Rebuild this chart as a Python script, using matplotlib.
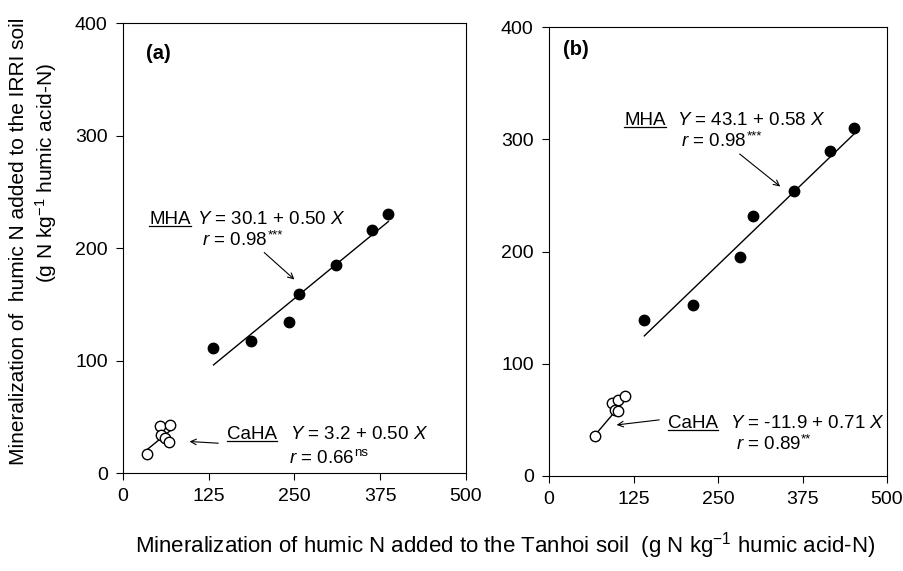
import matplotlib
matplotlib.use("Agg")
import numpy as np
import matplotlib.pyplot as plt
from matplotlib.lines import Line2D

plt.rcParams['font.family'] = ['Liberation Sans', 'DejaVu Sans']
plt.rcParams['mathtext.fontset'] = 'custom'
plt.rcParams['mathtext.rm'] = 'Liberation Sans'
plt.rcParams['mathtext.it'] = 'Liberation Sans:italic'

# Panel (a) - IRRI soil vs Tanhoi soil
mha_a_x = [132, 187, 242, 256, 311, 363, 387]
mha_a_y = [111, 117, 134, 159, 185, 216, 230]
caha_a_x = [35, 54, 69, 55, 62, 67]
caha_a_y = [17, 42, 43, 34, 31, 28]
mha_a_fit = (30.1, 0.50)
caha_a_fit = (3.2, 0.50)

# Panel (b)
mha_b_x = [141, 213, 282, 302, 362, 416, 451]
mha_b_y = [139, 152, 195, 232, 254, 290, 310]
caha_b_x = [68, 93, 102, 112, 97, 102]
caha_b_y = [36, 65, 68, 71, 59, 58]
mha_b_fit = (43.1, 0.58)
caha_b_fit = (-11.9, 0.71)

xticks = [0, 125, 250, 375, 500]
yticks = [0, 100, 200, 300, 400]

FS_TICK = 14
FS_ANN = 13.5
FS_LAB = 15

fig = plt.figure(figsize=(9.04, 5.71), dpi=100)
ax_a = fig.add_axes([0.136, 0.1716, 0.3794, 0.788])
ax_b = fig.add_axes([0.6073, 0.1664, 0.3739, 0.786])


def draw_panel(ax, mx, my, cx, cy, mfit, cfit):
    mx = np.array(mx); cx = np.array(cx)
    xs = np.array([mx.min(), mx.max()])
    ax.plot(xs, mfit[0] + mfit[1] * xs, color='black', lw=1.0)
    xs = np.array([cx.min(), cx.max()])
    ax.plot(xs, cfit[0] + cfit[1] * xs, color='black', lw=1.0)
    ax.plot(mx, my, 'o', color='black', ms=7.5, zorder=3)
    ax.plot(cx, cy, 'o', mfc='white', mec='black', mew=1.0, ms=7.5, zorder=3)
    ax.set_xlim(0, 500)
    ax.set_ylim(0, 400)
    ax.set_xticks(xticks)
    ax.set_yticks(yticks)
    ax.tick_params(direction='out', length=5, width=0.8, labelsize=FS_TICK, pad=6)
    for s in ax.spines.values():
        s.set_linewidth(0.8)


draw_panel(ax_a, mha_a_x, mha_a_y, caha_a_x, caha_a_y, mha_a_fit, caha_a_fit)
draw_panel(ax_b, mha_b_x, mha_b_y, caha_b_x, caha_b_y, mha_b_fit, caha_b_fit)

ax_a.text(34, 373, '(a)', fontsize=14.5, fontweight='bold', va='center')
ax_b.text(21, 380, '(b)', fontsize=14.5, fontweight='bold', va='center')

underline_texts = []


def label(ax, name, x, y, xeq, eq, xr, yr, rtxt, sup):
    t = ax.text(x, y, name, fontsize=FS_ANN, va='center')
    underline_texts.append(t)
    ax.text(xeq, y, eq, fontsize=FS_ANN, va='center')
    tr = ax.text(xr, yr, rtxt, fontsize=FS_ANN, va='center')
    ax.annotate(sup, xy=(1.0, 0.45), xycoords=tr, fontsize=9.5,
                ha='left', va='bottom')


label(ax_a, 'MHA', 38, 225, 108, r'$\it{Y}$ = 30.1 + 0.50 $\it{X}$',
      115, 207, r'$\it{r}$ = 0.98', '***')
label(ax_a, 'CaHA', 152, 34, 243, r'$\it{Y}$ = 3.2 + 0.50 $\it{X}$',
      242, 13, r'$\it{r}$ = 0.66', 'ns')
label(ax_b, 'MHA', 111, 317, 189, r'$\it{Y}$ = 43.1 + 0.58 $\it{X}$',
      196, 298, r'$\it{r}$ = 0.98', '***')
label(ax_b, 'CaHA', 176, 47, 268, r'$\it{Y}$ = -11.9 + 0.71 $\it{X}$',
      276, 28, r'$\it{r}$ = 0.89', '**')

arrow = dict(arrowstyle='->', color='black', lw=0.8, shrinkA=0, shrinkB=0)
ax_a.annotate('', xy=(250, 172), xytext=(206, 196), arrowprops=arrow)
ax_a.annotate('', xy=(97, 28), xytext=(139, 26.5), arrowprops=arrow)
ax_b.annotate('', xy=(342, 258), xytext=(282, 287), arrowprops=arrow)
ax_b.annotate('', xy=(100, 45.5), xytext=(163, 50), arrowprops=arrow)

fig.text(19 / 904, 1 - 241 / 571, 'Mineralization of  humic N added to the IRRI soil',
         rotation=90, ha='center', va='center', fontsize=FS_LAB)
fig.text(46 / 904, 1 - 173 / 571, r'(g N kg$^{-1}$ humic acid-N)',
         rotation=90, ha='center', va='center', fontsize=FS_LAB)
fig.text(505 / 904, 1 - 546 / 571,
         r'Mineralization of humic N added to the Tanhoi soil  (g N kg$^{-1}$ humic acid-N)',
         ha='center', va='center', fontsize=16)

# underline the MHA / CaHA tags
fig.canvas.draw()
r = fig.canvas.get_renderer()
for t in underline_texts:
    bb = t.get_window_extent(renderer=r)
    yb = bb.y0 + 2
    fig.add_artist(Line2D([bb.x0 / 904, bb.x1 / 904], [yb / 571, yb / 571],
                          color='black', lw=0.9))

fig.savefig('out.png', dpi=100)
